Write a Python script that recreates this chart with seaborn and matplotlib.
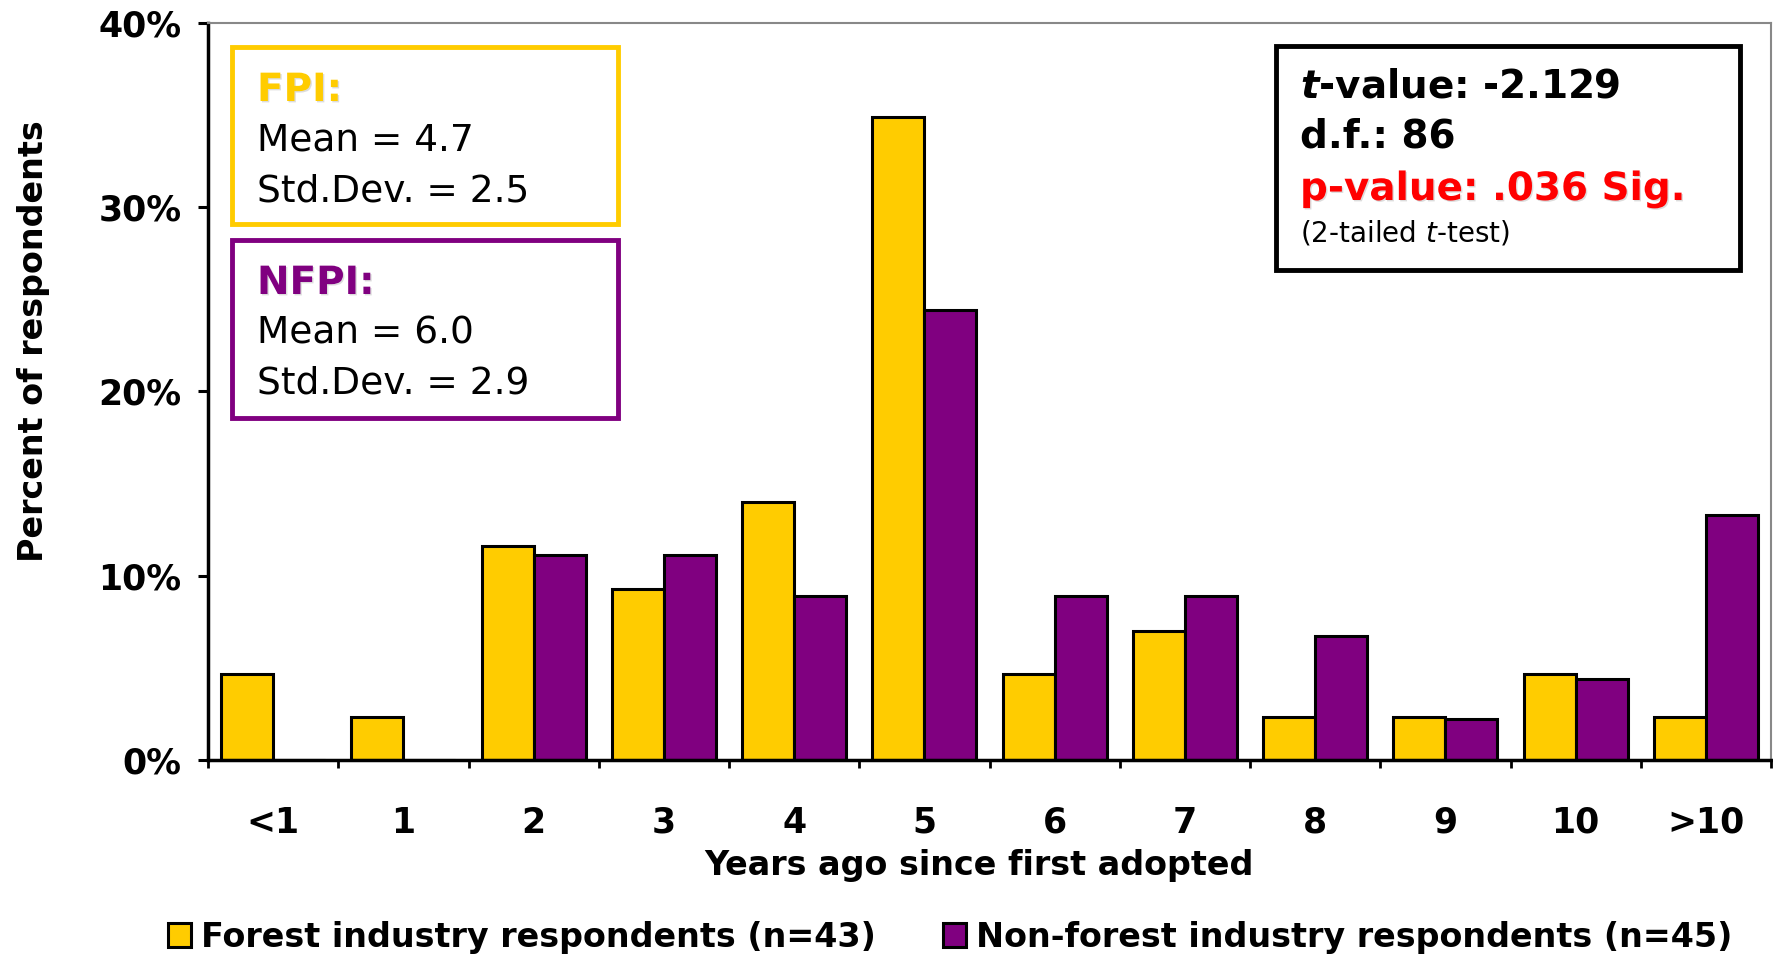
import matplotlib
matplotlib.use("Agg")
import matplotlib.pyplot as plt
import matplotlib.patheffects as pe
from matplotlib.patches import Rectangle
import seaborn as sns
import pandas as pd

categories = ["<1", "1", "2", "3", "4", "5", "6", "7", "8", "9", "10", ">10"]
fpi_pct = [4.65, 2.33, 11.6, 9.3, 14.0, 34.9, 4.65, 7.0, 2.33, 2.33, 4.65, 2.33]
nfpi_pct = [0.0, 0.0, 11.1, 11.1, 8.9, 24.4, 8.9, 8.9, 6.7, 2.2, 4.4, 13.3]
series_names = ["Forest industry respondents (n=43)", "Non-forest industry respondents (n=45)"]
yticks = [0, 10, 20, 30, 40]
ytick_labels = ["0%", "10%", "20%", "30%", "40%"]

GOLD = "#FFCC00"
PURPLE = "#800080"

df = pd.DataFrame({
    "cat": categories * 2,
    "pct": fpi_pct + nfpi_pct,
    "series": [series_names[0]] * len(categories) + [series_names[1]] * len(categories),
})

sns.set_theme(style="white")
plt.rcParams["font.family"] = ["DejaVu Sans"]
plt.rcParams["text.color"] = "black"
plt.rcParams["axes.labelcolor"] = "black"
plt.rcParams["xtick.color"] = "black"
plt.rcParams["ytick.color"] = "black"

W, H = 1773, 959
fig = plt.figure(figsize=(W / 100, H / 100), dpi=100)
ax = fig.add_axes([208 / W, 1 - 760 / H, (1771 - 208) / W, (760 - 22.6) / H])

sns.barplot(data=df, x="cat", y="pct", hue="series", order=categories,
            hue_order=series_names, palette=[GOLD, PURPLE], width=0.8,
            edgecolor="black", linewidth=2.2, saturation=1, ax=ax)

ax.set_ylim(0, 40)
ax.set_xlim(-0.5, len(categories) - 0.5)
ax.set_yticks(yticks)
ax.set_yticklabels(ytick_labels, fontsize=25, fontweight="bold", color="black")
ax.tick_params(axis="y", length=7, width=2.2, color="black", pad=12, left=True)
ax.set_xticks(range(len(categories)))
ax.set_xticklabels(categories, fontsize=25, fontweight="bold", color="black")
ax.set_xticks([i - 0.5 for i in range(len(categories) + 1)], minor=True)
ax.tick_params(axis="x", which="major", length=0, pad=33)
ax.tick_params(axis="x", which="minor", length=6, width=2, color="black", bottom=True)

for s in ["left", "bottom"]:
    ax.spines[s].set_color("black")
    ax.spines[s].set_linewidth(2.5)
for s in ["top", "right"]:
    ax.spines[s].set_color("#888888")
    ax.spines[s].set_linewidth(1.5)

ax.set_xlabel("Years ago since first adopted", fontsize=24, fontweight="bold", color="black")
ax.xaxis.set_label_coords((979 - 208) / (1771 - 208), -(866 - 760) / (760 - 22.6))
ax.set_ylabel("Percent of respondents", fontsize=24, fontweight="bold", color="black")
ax.yaxis.set_label_coords((34 - 208) / (1771 - 208), (760 - 341) / (760 - 22.6))
ax.xaxis.label.set_va("center")
ax.yaxis.label.set_va("center")

handles, labels = ax.get_legend_handles_labels()
if ax.get_legend() is not None:
    ax.get_legend().remove()
leg = fig.legend(handles, labels, loc="center", bbox_to_anchor=(950 / W, 1 - 937 / H), ncol=2,
                 frameon=False, handlelength=0.7, handleheight=0.7, columnspacing=2.0,
                 handletextpad=0.3, prop={"size": 24, "weight": "bold"})
for t in leg.get_texts():
    t.set_color("black")

def fx(x):
    return x / W

def fy(y):
    return 1 - y / H

def box(x0, y0, x1, y1, color):
    fig.add_artist(Rectangle((fx(x0), fy(y1)), fx(x1) - fx(x0), fy(y0) - fy(y1),
                             transform=fig.transFigure, fill=True, facecolor="white",
                             edgecolor=color, linewidth=3.5, zorder=5))

shadow = [pe.withSimplePatchShadow(offset=(1, -1), shadow_rgbFace="#BBBBBB", alpha=0.5)]

box(232, 47, 618, 224, GOLD)
fig.text(fx(257), fy(90), "FPI:", fontsize=28, fontweight="bold", color=GOLD, va="center", zorder=6,
         path_effects=shadow)
fig.text(fx(257), fy(141), "Mean = 4.7", fontsize=27, color="black", va="center", zorder=6)
fig.text(fx(257), fy(192), "Std.Dev. = 2.5", fontsize=27, color="black", va="center", zorder=6)

box(232, 240, 618, 418, PURPLE)
fig.text(fx(257), fy(283), "NFPI:", fontsize=28, fontweight="bold", color=PURPLE, va="center", zorder=6,
         path_effects=shadow)
fig.text(fx(257), fy(334), "Mean = 6.0", fontsize=27, color="black", va="center", zorder=6)
fig.text(fx(257), fy(384), "Std.Dev. = 2.9", fontsize=27, color="black", va="center", zorder=6)

box(1276, 46, 1740, 270, "black")
fig.text(fx(1300), fy(86), r"$\mathbfit{t}$-value: -2.129", fontsize=28, fontweight="bold",
         color="black", va="center", zorder=6)
fig.text(fx(1300), fy(137), "d.f.: 86", fontsize=28, fontweight="bold", color="black", va="center", zorder=6)
fig.text(fx(1300), fy(189), "p-value: .036 Sig.", fontsize=28, fontweight="bold", color="#FF0000",
         va="center", zorder=6, path_effects=shadow)
fig.text(fx(1300), fy(233), r"(2-tailed $\mathit{t}$-test)", fontsize=20, color="black", va="center", zorder=6)

fig.savefig("out.png", dpi=100)
